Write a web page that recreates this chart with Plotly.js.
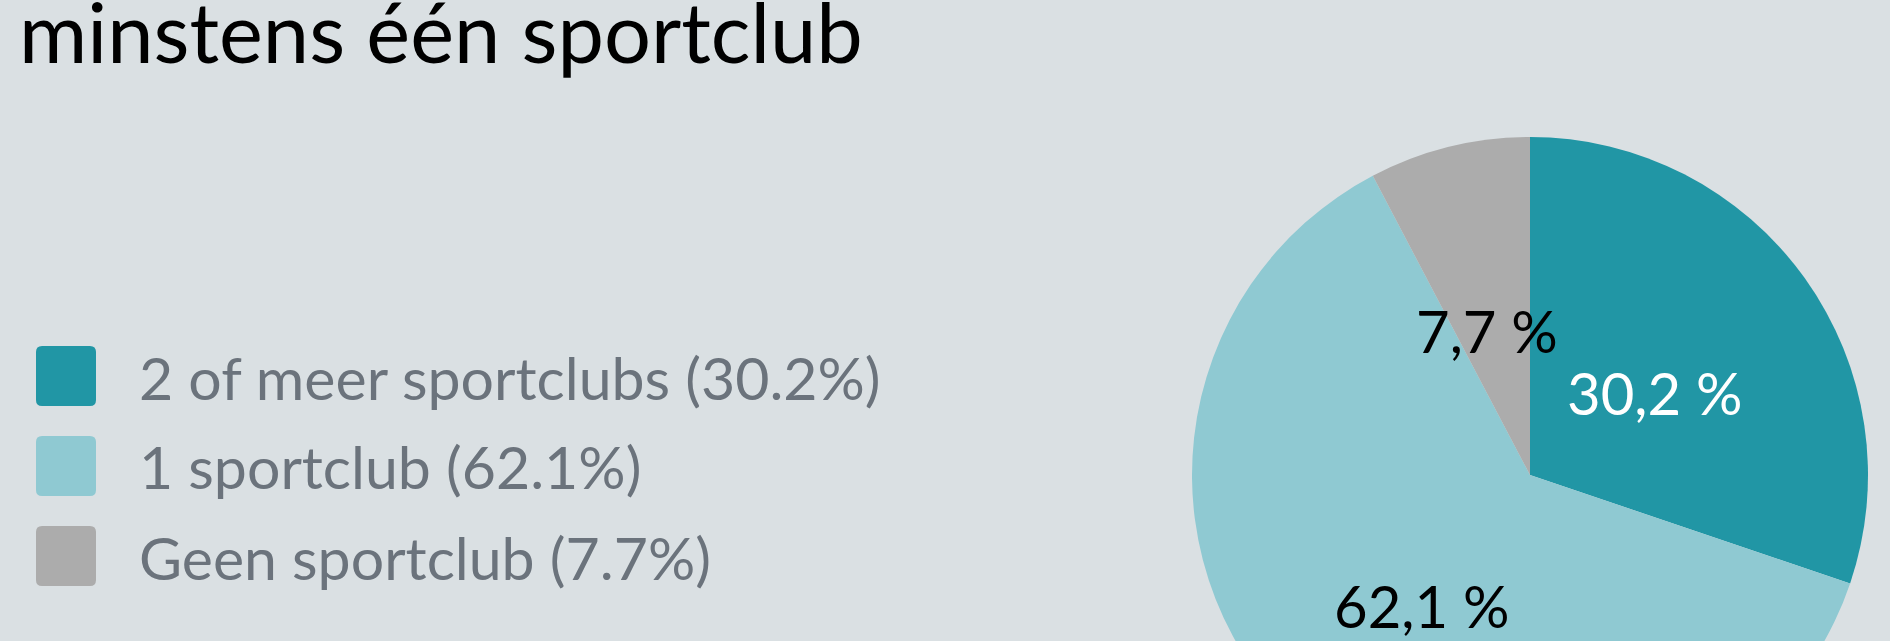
<!DOCTYPE html>
<html>
<head>
<meta charset="utf-8">
<script src="https://cdn.plot.ly/plotly-3.0.1.min.js"></script>
<style>
html, body { margin:0; padding:0; background:#dae0e3; overflow:hidden; width:1890px; height:641px; }
#chart { width:1890px; height:900px; }
</style>
</head>
<body>
<div id="chart"></div>
<script>
// ---- data ----
const categories = ['2 of meer sportclubs', '1 sportclub', 'Geen sportclub'];
const percentages = [30.2, 62.1, 7.7];
const titleText = 'minstens één sportclub';

// ---- styles ----
const sliceColors = ['#2196a5', '#8fc9d2', '#acacac'];
const labelColors = ['#ffffff', '#000000', '#000000'];
const bg = '#dae0e3';
const legendTextColor = '#6b737c';
const FONT = 'Lato, "Open Sans", sans-serif';

// ---- geometry (pixels) ----
const W = 1890, H = 900;
const cx = 1530, cy = 475, R = 338;
const px = x => x / W;
const py = y => 1 - y / H;

const shapes = [];
const annotations = [];

// pie slice labels placed along slice mid-angles
const total = percentages.reduce((a, b) => a + b, 0);
let cum = 0;
percentages.forEach((v, i) => {
  const mid = (cum + v / 2) / total * 2 * Math.PI;
  cum += v;
  const d = 0.47 * R;
  const x = cx + d * Math.sin(mid);
  const y = cy - d * Math.cos(mid);
  annotations.push({
    xref: 'paper', yref: 'paper', x: px(x), y: py(y),
    xanchor: 'center', yanchor: 'middle', showarrow: false,
    text: v.toFixed(1).replace('.', ',') + ' %',
    font: { family: FONT, size: 58, color: labelColors[i] },
    xshift: -5, yshift: -10
  });
});

// custom legend
const legX = 36, legTop = 346, legStep = 90, sq = 60, rr = 6;
function roundRect(x0, y0, w, h, r) {
  const X = v => px(v).toFixed(6), Y = v => py(v).toFixed(6);
  return 'M' + X(x0 + r) + ',' + Y(y0) +
    ' L' + X(x0 + w - r) + ',' + Y(y0) +
    ' Q' + X(x0 + w) + ',' + Y(y0) + ' ' + X(x0 + w) + ',' + Y(y0 + r) +
    ' L' + X(x0 + w) + ',' + Y(y0 + h - r) +
    ' Q' + X(x0 + w) + ',' + Y(y0 + h) + ' ' + X(x0 + w - r) + ',' + Y(y0 + h) +
    ' L' + X(x0 + r) + ',' + Y(y0 + h) +
    ' Q' + X(x0) + ',' + Y(y0 + h) + ' ' + X(x0) + ',' + Y(y0 + h - r) +
    ' L' + X(x0) + ',' + Y(y0 + r) +
    ' Q' + X(x0) + ',' + Y(y0) + ' ' + X(x0 + r) + ',' + Y(y0) + ' Z';
}
categories.forEach((c, i) => {
  const y0 = legTop + i * legStep;
  shapes.push({
    type: 'path', xref: 'paper', yref: 'paper',
    path: roundRect(legX, y0, sq, sq, rr),
    fillcolor: sliceColors[i], line: { width: 0 }, layer: 'above'
  });
  annotations.push({
    xref: 'paper', yref: 'paper', x: px(137), y: py(y0 + sq / 2 + 1),
    xanchor: 'left', yanchor: 'middle', showarrow: false,
    text: c + ' (' + percentages[i].toFixed(1) + '%)',
    font: { family: FONT, size: 59, color: legendTextColor }
  });
});

const data = [{
  type: 'pie',
  labels: categories,
  values: percentages,
  sort: false,
  direction: 'clockwise',
  rotation: 0,
  marker: { colors: sliceColors, line: { width: 0 } },
  textinfo: 'none',
  hoverinfo: 'label+percent',
  showlegend: false,
  domain: { x: [px(cx - R), px(cx + R)], y: [py(cy + R), py(cy - R)] }
}];

const layout = {
  width: W, height: H,
  margin: { l: 0, r: 0, t: 0, b: 0, pad: 0 },
  paper_bgcolor: bg, plot_bgcolor: bg,
  showlegend: false,
  title: {
    text: titleText,
    font: { family: FONT, size: 83, color: '#000000' },
    x: px(19), xref: 'paper', xanchor: 'left',
    y: py(34), yref: 'container', yanchor: 'middle'
  },
  shapes: shapes,
  annotations: annotations
};

Plotly.newPlot('chart', data, layout, { displayModeBar: false, staticPlot: true });
</script>
</body>
</html>
